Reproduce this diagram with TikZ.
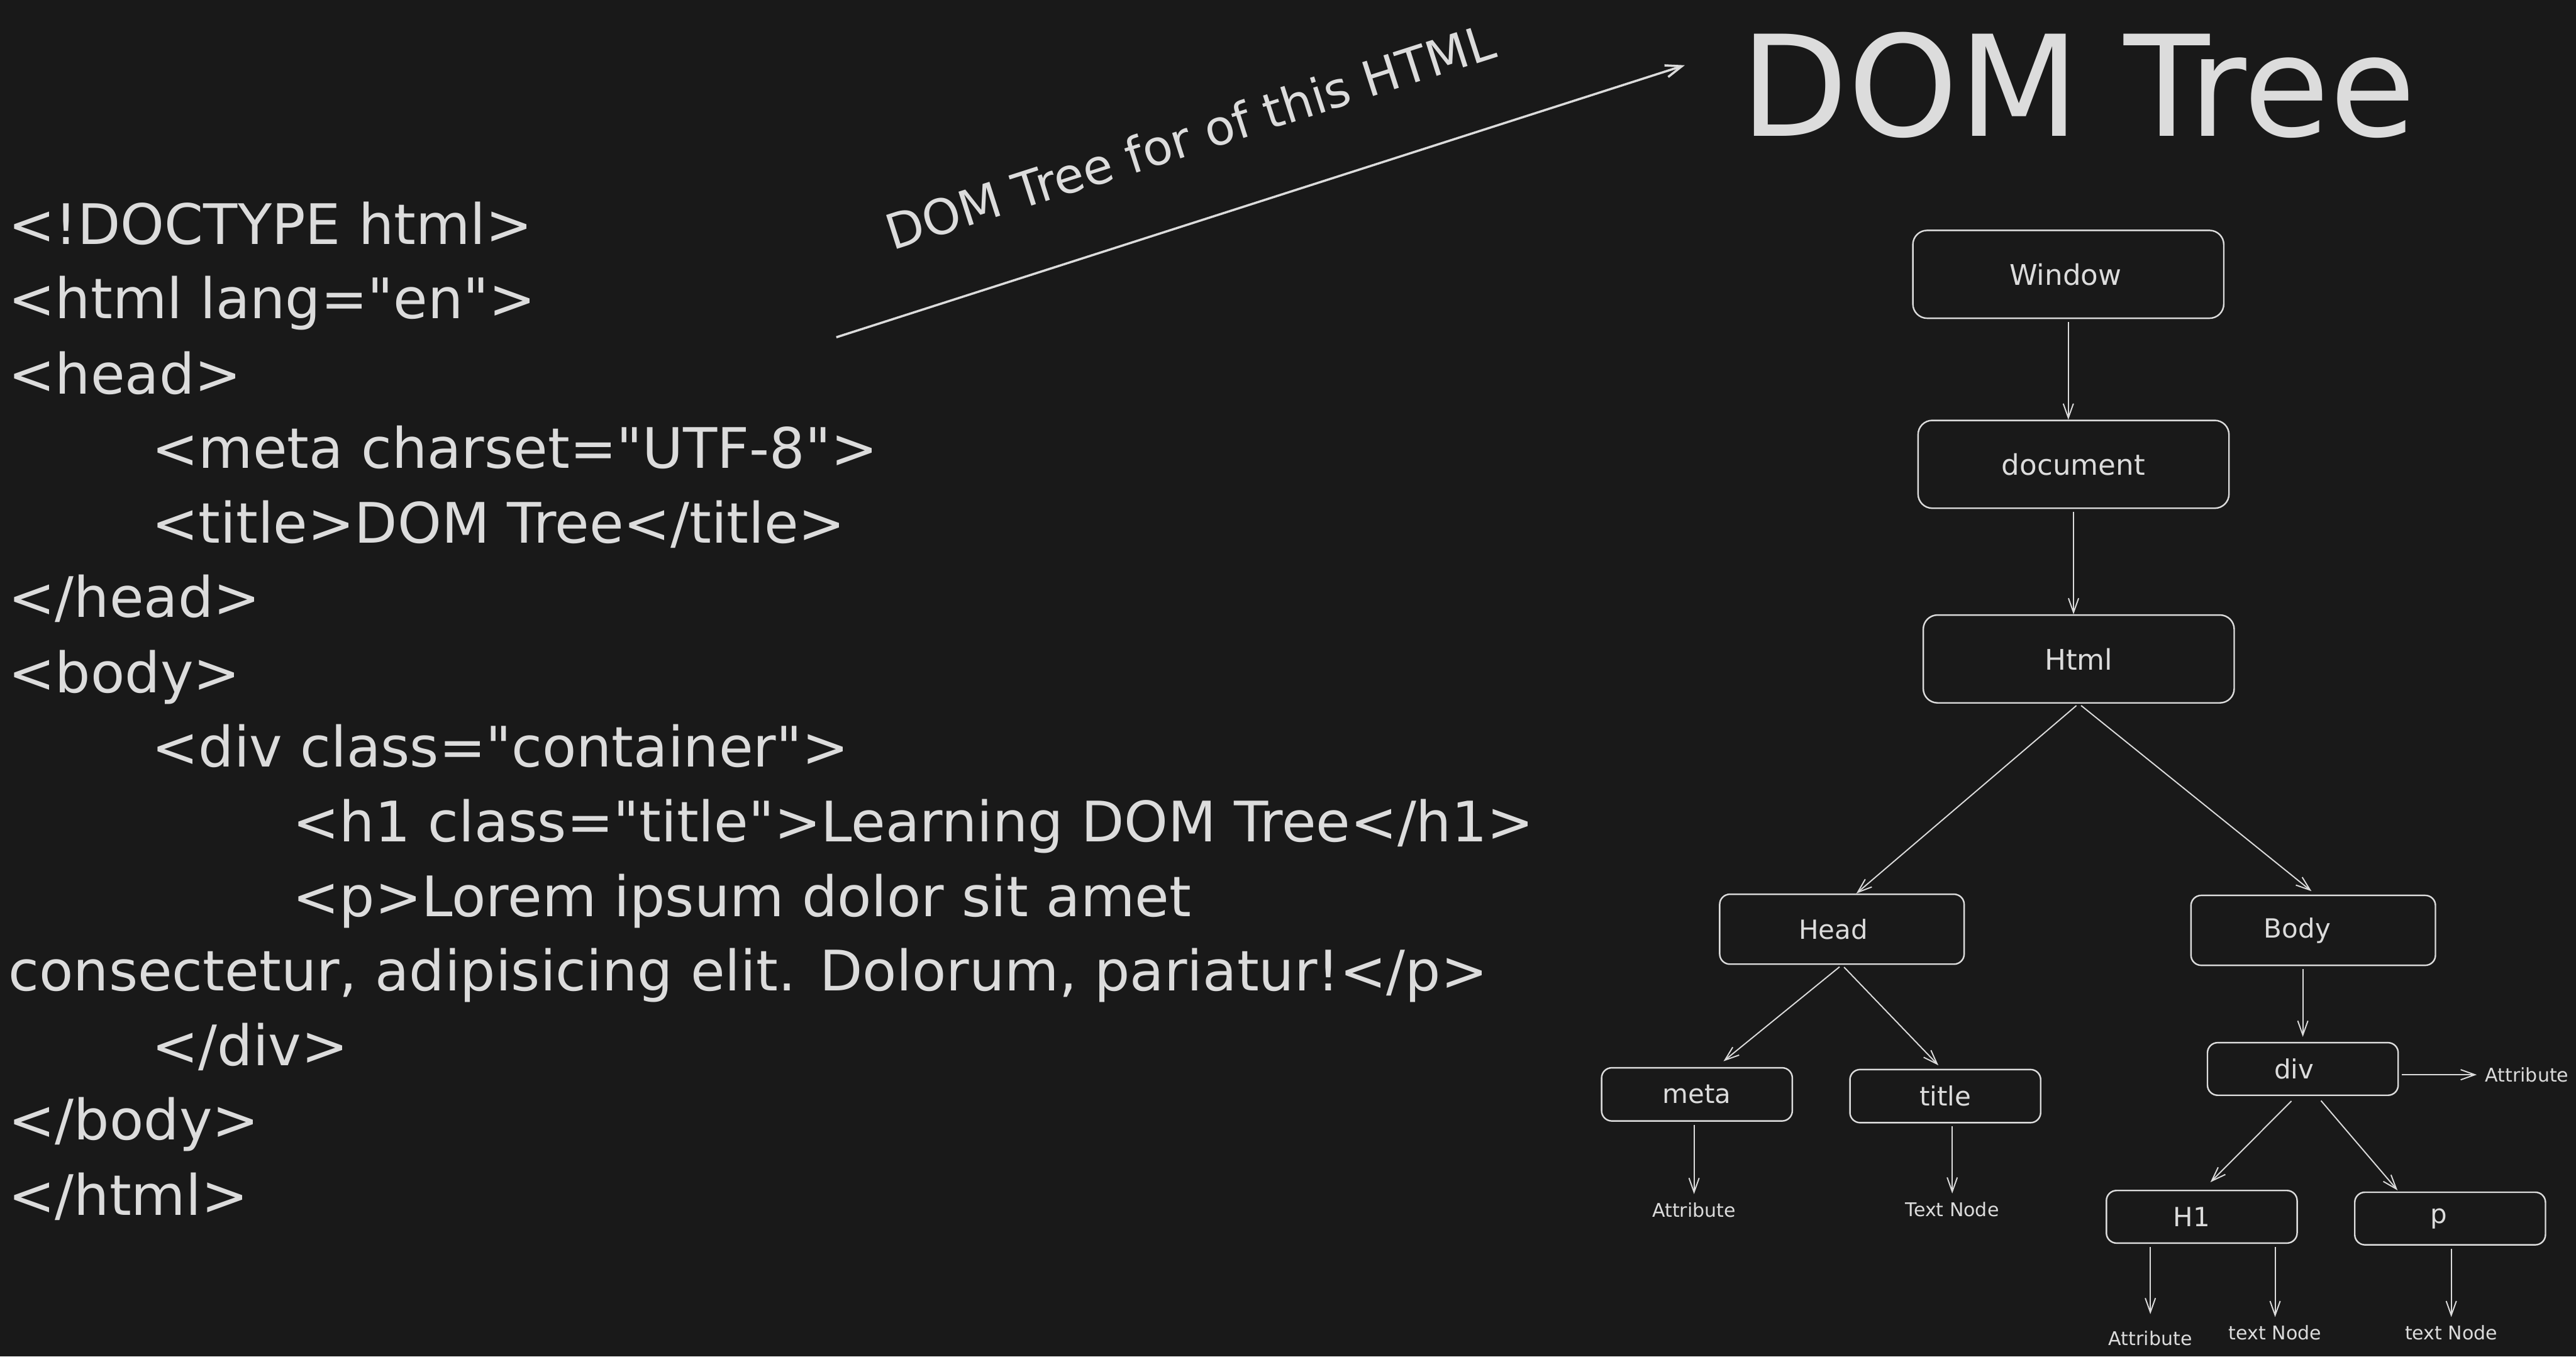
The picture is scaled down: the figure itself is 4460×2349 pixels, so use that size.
\documentclass[tikz,border=0pt]{standalone}
\usepackage{fontspec}
\setmainfont{DejaVu Sans}[Ligatures=TeXOff]
\usetikzlibrary{arrows.meta,calc}
\definecolor{bg}{HTML}{191919}
\definecolor{fg}{HTML}{DCDCDC}
\begin{document}
\begin{tikzpicture}[x=0.01cm,y=-0.01cm,
  code/.style={anchor=base west,inner sep=0,text=fg,font=\fontsize{27.5}{33}\selectfont},
  bigbox/.style={draw=fg,line width=0.75pt,rounded corners=7pt,minimum width=5.38cm,minimum height=1.52cm,text=fg,font=\fontsize{14}{17}\selectfont},
  smallbox/.style={draw=fg,line width=0.75pt,rounded corners=5pt,minimum width=3.3cm,minimum height=0.92cm,text=fg,font=\fontsize{13}{16}\selectfont},
  midbox/.style={smallbox,minimum width=4.23cm,minimum height=1.21cm},
  lbl/.style={inner sep=0,text=fg,font=\fontsize{9.3}{11}\selectfont},
  arr/.style={draw=fg,line width=0.6pt,shorten <=1.5pt,-{Straight Barb[length=7pt,width=5pt]}},
  bigarr/.style={draw=fg,line width=1.1pt,-{Straight Barb[length=8pt,width=6pt]}},
]
\useasboundingbox (0,0) rectangle (4460,2349);
\fill[bg] (0,0) rectangle (4460,2349);

% code listing
\node[code] (c1)  at (14,423)   {<!DOCTYPE html>};
\node[code] (c2)  at (14,552)   {<html lang="en">};
\node[code] (c3)  at (14,682)   {<head>};
\node[code] (c4)  at (262,811)  {<meta charset="UTF-8">};
\node[code] (c5)  at (262,940)  {<title>DOM Tree</title>};
\node[code] (c6)  at (14,1069)  {</head>};
\node[code] (c7)  at (14,1199)  {<body>};
\node[code] (c8)  at (262,1328) {<div class="container">};
\node[code] (c9)  at (506,1457) {<h1 class="title">Learning DOM Tree</h1>};
\node[code] (c10) at (506,1587) {<p>Lorem ipsum dolor sit amet};
\node[code] (c11) at (14,1716)  {consectetur, adipisicing elit. Dolorum, pariatur!</p>};
\node[code] (c12) at (262,1845) {</div>};
\node[code] (c13) at (14,1974)  {</body>};
\node[code] (c14) at (14,2104)  {</html>};

% big arrow and its label
\coordinate (a0) at (1448,584);
\coordinate (a1) at (2917,113);
\draw[bigarr] (a0) -- (a1);
\node[rotate=17.8,anchor=base,inner sep=0,text=fg,font=\fontsize{24}{29}\selectfont] (lab) at (2070,266) {DOM Tree for of this HTML};

% title
\node[anchor=base,inner sep=0,text=fg,font=\fontsize{69}{82}\selectfont] (ttitle) at (3598,236) {DOM Tree};

% tree nodes
\node[bigbox] (win)  at (3581,475)  {Window\kern0.1cm};
\node[bigbox] (doc)  at (3590,804)  {document};
\node[bigbox] (html) at (3599,1141) {Html};
\node[midbox] (head) at (3189,1609) {Head\kern0.3cm};
\node[midbox] (body) at (4005,1611) {Body\kern0.55cm};
\node[smallbox] (meta) at (2938,1895) {meta};
\node[smallbox] (ttl)  at (3368,1898) {title};
\node[smallbox,minimum height=0.91cm] (div)  at (3987,1851) {div\kern0.3cm};
\node[smallbox,minimum height=0.91cm] (h1)   at (3812,2107) {H1\kern0.35cm};
\node[smallbox,minimum height=0.91cm] (p)    at (4242,2110) {p\kern0.4cm};

% leaf labels
\node[lbl] (la1) at (2933,2095) {Attribute};
\node[lbl] (lt1) at (3380,2094) {Text Node};
\node[lbl] (la2) at (4375,1861) {Attribute};
\node[lbl] (la3) at (3723,2317) {Attribute};
\node[lbl] (lt2) at (3939,2308) {text Node};
\node[lbl] (lt3) at (4244,2308) {text Node};

% connectors
\draw[arr] (win.south) -- (win.south |- doc.north);
\draw[arr] (doc.south) -- (doc.south |- html.north);
\draw[arr] (html.south) -- ($(head.north)+(25,0)$);
\draw[arr] (html.south) -- ($(body.north)+(-3,-6)$);
\draw[arr] (head.south) -- ($(meta.north)+(46,-10)$);
\draw[arr] (head.south) -- ($(ttl.north)+(-12,-6)$);
\draw[arr,shorten >=2.5pt] (div.north |- body.south) -- (div.north);
\draw[arr] ($(div.south)+(-16,5)$) -- ($(h1.north)+(15,-13)$);
\draw[arr] ($(div.south)+(28,4)$) -- ($(p.north)+(-91,-2)$);
\draw[arr,shorten >=4pt] (div.east |- la2.west) -- (la2.west);
\draw[arr,shorten >=4pt] (meta.south -| la1.north) -- (la1.north);
\draw[arr,shorten >=4pt] (ttl.south -| lt1.north) -- (lt1.north);
\draw[arr,shorten >=8pt] (h1.south -| la3.north) -- (la3.north);
\draw[arr,shorten >=4pt] (h1.south -| lt2.north) -- (lt2.north);
\draw[arr,shorten >=4pt] (p.south -| lt3.north) -- (lt3.north);
\end{tikzpicture}
\end{document}
